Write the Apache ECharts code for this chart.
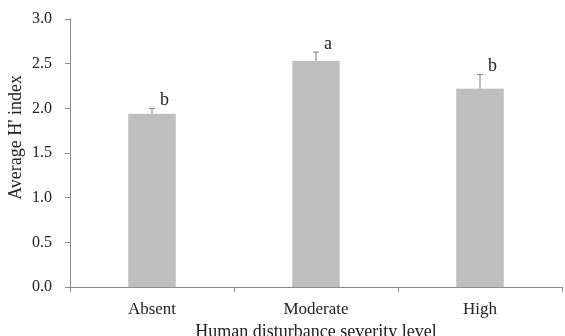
<!DOCTYPE html>
<html><head><meta charset="utf-8">
<script src="https://cdn.jsdelivr.net/npm/echarts@6/dist/echarts.min.js"></script>
<style>html,body{margin:0;padding:0;background:#fff}#c{width:565px;height:336px}</style>
</head><body><div id="c"></div>
<script>
const categories = ['Absent', 'Moderate', 'High'];
const means = [1.94, 2.53, 2.22];
const errors = [0.06, 0.10, 0.16];
const letters = ['b', 'a', 'b'];
const yTicks = [0, 0.5, 1.0, 1.5, 2.0, 2.5, 3.0];

const font = 'Liberation Serif, Times New Roman, serif';
const chart = echarts.init(document.getElementById('c'), null, {renderer: 'canvas'});
chart.setOption({
  animation: false,
  grid: {left: 70, right: 3, top: 19, bottom: 49, containLabel: false, outerBoundsMode: 'none'},
  xAxis: {
    type: 'category', data: categories,
    axisLine: {lineStyle: {color: '#8c8c8c', width: 1}},
    axisTick: {show: true, alignWithLabel: false, length: 5, lineStyle: {color: '#8c8c8c'}},
    axisLabel: {color: '#222', fontFamily: font, fontSize: 17, margin: 14},
    name: 'Human disturbance severity level', nameLocation: 'middle', nameGap: 34,
    nameTextStyle: {color: '#222', fontFamily: font, fontSize: 18}
  },
  yAxis: {
    type: 'value', min: yTicks[0], max: yTicks[yTicks.length - 1], interval: 0.5,
    axisLine: {show: true, lineStyle: {color: '#8c8c8c', width: 1}},
    axisTick: {show: true, length: 5, lineStyle: {color: '#8c8c8c'}},
    splitLine: {show: false},
    axisLabel: {color: '#222', fontFamily: font, fontSize: 16, margin: 18,
      formatter: v => v.toFixed(1)}
  },
  graphic: [{
    type: 'text', left: 7, top: 75,
    rotation: Math.PI / 2,
    style: {text: "Average H' index", fill: '#222', font: '18px ' + font}
  }],
  series: [{
    type: 'bar', data: means, barWidth: '29%',
    itemStyle: {color: '#bfbfbf'}
  }, {
    type: 'custom',
    data: means.map((m, i) => [i, m, m + errors[i]]),
    renderItem: function (params, api) {
      const x = api.coord([api.value(0), api.value(1)])[0];
      const yb = api.coord([api.value(0), api.value(1)])[1];
      const yt = api.coord([api.value(0), api.value(2)])[1];
      const i = params.dataIndex;
      return {
        type: 'group',
        children: [
          {type: 'line', shape: {x1: x, y1: yb, x2: x, y2: yt}, style: {stroke: '#7a7a7a', lineWidth: 1}},
          {type: 'line', shape: {x1: x - 3, y1: yt, x2: x + 3, y2: yt}, style: {stroke: '#7a7a7a', lineWidth: 1}},
          {type: 'text', x: x + 8, y: yt + 1, style: {text: letters[i], fill: '#222', font: '18px ' + font, textVerticalAlign: 'bottom', verticalAlign: 'bottom'}}
        ]
      };
    },
    z: 5
  }]
});
</script></body></html>
